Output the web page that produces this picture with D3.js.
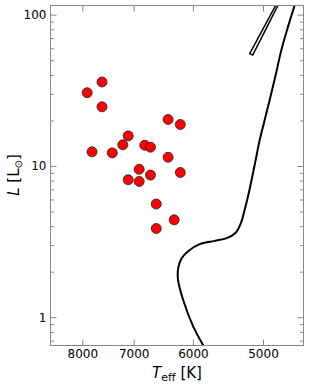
<!DOCTYPE html>
<html>
<head>
<meta charset="utf-8">
<script src="https://cdn.jsdelivr.net/npm/d3@7"></script>
<style>
  body { margin: 0; background: #fff; }
  svg { display: block; font-family: "DejaVu Sans", sans-serif; }
</style>
</head>
<body>
<div class="canvas"></div>
<script>
// stars (Teff in K, L in Lsun)
const starTeff = [7900, 7600, 7600, 7800, 7400, 7200, 7100, 6800, 6700, 6900,
                  7100, 6900, 6700, 6400, 6200, 6400, 6200, 6600, 6300, 6600];
const starLum = [30.5, 35.9, 24.6, 12.4, 12.2, 13.8, 15.8, 13.7, 13.3, 9.5,
                 8.1, 7.9, 8.7, 20.3, 18.8, 11.4, 9.05, 5.6, 4.4, 3.86];

// evolutionary track
const trackTeff = [5788, 5998, 6156, 6237, 6233, 6181, 6076, 5894, 5669, 5495, 5368, 5299,
                   5244, 5199, 5150, 5096, 5043, 4978, 4914, 4838, 4767, 4690, 4605, 4582];
const trackLum = [0.594, 0.872, 1.308, 1.773, 2.127, 2.439, 2.733, 3.04, 3.196, 3.33, 3.62, 4.151,
                  5.134, 6.284, 8.096, 10.97, 14.87, 20.15, 27.3, 39.9, 58.3, 81.5, 115.5, 128.5];

// narrow loop near the top
const loopTeff = [4757, 5136, 5176, 4782];
const loopLum = [130.5, 54.1, 55.3, 130.5];

const xTicks = [8000, 7000, 6000, 5000];
const yTicks = [1, 10, 100];

const W = 310, H = 388;
const margin = { top: 5.5, right: 6.5, bottom: 42.5, left: 50.5 };
const graphWidth = W - margin.left - margin.right;
const graphHeight = H - margin.top - margin.bottom;

const svg = d3.select('.canvas')
    .append('svg')
    .attr('width', W)
    .attr('height', H);

const graph = svg.append('g')
    .attr('transform', `translate(${margin.left}, ${margin.top})`);

const x = d3.scaleLog()
    .domain([8690, 4500])
    .range([0, graphWidth]);

const y = d3.scaleLog()
    .domain([0.65, 115])
    .range([graphHeight, 0]);

// minor ticks on the log y axis
const yMinor = [];
[0.1, 1, 10].forEach(dec => {
    for (let k = 2; k <= 9; k++) {
        const v = +(k * dec).toFixed(3);
        if (v >= 0.65 && v <= 115) yMinor.push(v);
    }
});

graph.append('clipPath').attr('id', 'clip')
    .append('rect').attr('width', graphWidth).attr('height', graphHeight);

const line = d3.line()
    .x(d => x(d[0]))
    .y(d => y(d[1]))
    .curve(d3.curveCatmullRom.alpha(0.5));

const plot = graph.append('g').attr('clip-path', 'url(#clip)');

plot.append('path')
    .datum(trackTeff.map((t, i) => [t, trackLum[i]]))
    .attr('d', line)
    .attr('fill', 'none')
    .attr('stroke', '#000')
    .attr('stroke-width', 2);

plot.append('path')
    .datum(loopTeff.map((t, i) => [t, loopLum[i]]))
    .attr('d', d3.line().x(d => x(d[0])).y(d => y(d[1])))
    .attr('fill', 'none')
    .attr('stroke', '#000')
    .attr('stroke-width', 1.5)
    .attr('stroke-linejoin', 'round');

plot.selectAll('circle')
    .data(starTeff.map((t, i) => ({ t: t, l: starLum[i] })))
    .enter()
    .append('circle')
    .attr('cx', d => x(d.t))
    .attr('cy', d => y(d.l))
    .attr('r', 5)
    .attr('fill', '#ff0000')
    .attr('stroke', '#222')
    .attr('stroke-width', 0.8);

// axes, ticks pointing inward
const tickColor = '#888';
function styleAxis(g) {
    g.select('.domain').remove();
    g.selectAll('line').attr('stroke', tickColor);
    g.selectAll('text').attr('fill', '#000').style('font-size', '12px')
        .style('font-family', '"DejaVu Sans", sans-serif');
}

graph.append('g')
    .attr('transform', `translate(0, ${graphHeight})`)
    .call(d3.axisBottom(x).tickValues(xTicks).tickFormat(d3.format('d')).tickSize(-6).tickPadding(4))
    .call(styleAxis);
graph.append('g')
    .call(d3.axisTop(x).tickValues(xTicks).tickFormat('').tickSize(-6))
    .call(styleAxis);

graph.append('g')
    .call(d3.axisLeft(y).tickValues(yTicks).tickFormat(d3.format('d')).tickSize(-6).tickPadding(4))
    .call(styleAxis);
graph.append('g')
    .call(d3.axisLeft(y).tickValues(yMinor).tickFormat('').tickSize(-3.5))
    .call(styleAxis);
graph.append('g')
    .attr('transform', `translate(${graphWidth}, 0)`)
    .call(d3.axisRight(y).tickValues(yTicks).tickFormat('').tickSize(-6))
    .call(styleAxis);
graph.append('g')
    .attr('transform', `translate(${graphWidth}, 0)`)
    .call(d3.axisRight(y).tickValues(yMinor).tickFormat('').tickSize(-3.5))
    .call(styleAxis);

// frame
graph.append('rect')
    .attr('width', graphWidth)
    .attr('height', graphHeight)
    .attr('fill', 'none')
    .attr('stroke', tickColor)
    .attr('stroke-width', 1);

// axis labels
const xLabel = svg.append('text')
    .attr('x', margin.left + graphWidth / 2)
    .attr('y', 378)
    .attr('text-anchor', 'middle')
    .style('font-size', '15px');
xLabel.append('tspan').style('font-style', 'italic').text('T');
xLabel.append('tspan').attr('dy', 3).style('font-size', '11px').text('eff');
xLabel.append('tspan').attr('dy', -3).text(' [K]');

const yLabel = svg.append('text')
    .attr('transform', `translate(19, 175) rotate(-90)`)
    .attr('text-anchor', 'middle')
    .style('font-size', '15px');
yLabel.append('tspan').style('font-style', 'italic').text('L');
yLabel.append('tspan').text(' [L');
yLabel.append('tspan').attr('dy', 3).style('font-size', '10px').text('⊙');
yLabel.append('tspan').attr('dy', -3).text(']');
</script>
</body>
</html>
